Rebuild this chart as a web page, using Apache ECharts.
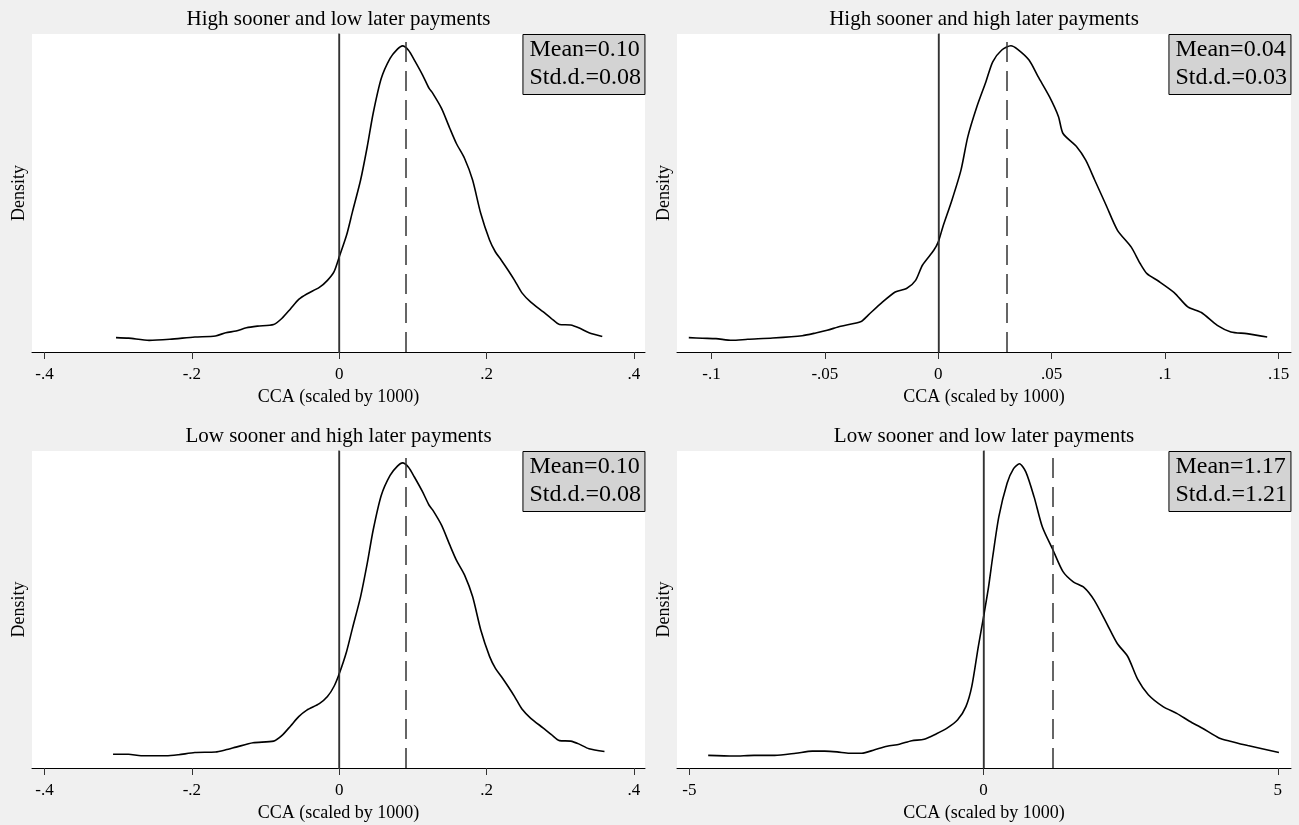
<!DOCTYPE html>
<html>
<head>
<meta charset="utf-8">
<script src="https://cdn.jsdelivr.net/npm/echarts@6/dist/echarts.min.js"></script>
<style>
  html, body { margin: 0; padding: 0; background: #f0f0f0; }
  #chart { width: 1299px; height: 825px; }
</style>
</head>
<body>
<div id="chart"></div>
<script>
// panel titles
const titles = [
    'High sooner and low later payments',
    'High sooner and high later payments',
    'Low sooner and high later payments',
    'Low sooner and low later payments'
];

// kernel density curves (x = CCA, y = density)
const p1X = [-0.303,-0.286,-0.258,-0.230,-0.196,-0.168,-0.154,-0.140,-0.126,-0.111,-0.089,-0.078,-0.066,-0.055,-0.044,-0.027,-0.016,-0.007,0.000,0.010,0.018,0.029,0.038,0.046,0.057,0.069,0.079,0.086,0.094,0.102,0.113,0.122,0.127,0.139,0.150,0.159,0.170,0.181,0.192,0.204,0.212,0.220,0.229,0.238,0.248,0.260,0.277,0.288,0.299,0.314,0.325,0.339,0.357];
const p1Y = [0.05,0.04,0.00,0.02,0.06,0.08,0.14,0.17,0.23,0.26,0.29,0.40,0.58,0.75,0.85,0.97,1.10,1.26,1.53,1.93,2.36,2.94,3.55,4.16,4.80,5.17,5.34,5.40,5.32,5.14,4.87,4.62,4.53,4.25,3.89,3.61,3.34,2.94,2.33,1.84,1.62,1.47,1.29,1.10,0.87,0.70,0.52,0.40,0.29,0.28,0.23,0.14,0.07];

const p2X = [-0.110,-0.104,-0.098,-0.091,-0.084,-0.073,-0.060,-0.054,-0.049,-0.043,-0.034,-0.031,-0.025,-0.019,-0.014,-0.010,-0.007,-0.002,0.000,0.002,0.006,0.010,0.013,0.017,0.021,0.024,0.028,0.032,0.035,0.040,0.044,0.049,0.053,0.055,0.061,0.065,0.069,0.074,0.079,0.085,0.089,0.092,0.097,0.104,0.110,0.116,0.123,0.129,0.136,0.145];
const p2Y = [0.13,0.10,0.08,0.00,0.05,0.11,0.22,0.35,0.48,0.67,0.90,1.19,1.78,2.30,2.46,2.85,3.57,4.28,4.68,5.39,6.66,8.09,9.67,11.10,12.29,13.24,13.80,14.00,13.83,13.32,12.53,11.58,10.63,9.83,9.20,8.56,7.61,6.42,5.23,4.44,3.65,3.17,2.82,2.27,1.59,1.32,0.71,0.40,0.32,0.16];

const p3X = [-0.307,-0.286,-0.269,-0.235,-0.218,-0.196,-0.168,-0.154,-0.140,-0.117,-0.089,-0.078,-0.066,-0.055,-0.044,-0.027,-0.016,-0.007,0.000,0.010,0.018,0.029,0.038,0.046,0.057,0.069,0.079,0.086,0.094,0.102,0.113,0.122,0.127,0.139,0.150,0.159,0.170,0.181,0.192,0.204,0.212,0.220,0.229,0.238,0.248,0.260,0.277,0.288,0.299,0.314,0.325,0.339,0.360];
const p3Y = [0.04,0.04,0.01,0.01,0.03,0.07,0.08,0.12,0.17,0.25,0.28,0.38,0.56,0.73,0.85,0.97,1.10,1.29,1.52,1.93,2.36,2.94,3.55,4.16,4.80,5.17,5.34,5.40,5.32,5.14,4.87,4.62,4.53,4.25,3.89,3.61,3.34,2.94,2.33,1.84,1.62,1.47,1.29,1.10,0.87,0.70,0.52,0.40,0.29,0.28,0.23,0.14,0.09];

const p4X = [-4.68,-4.25,-3.90,-3.55,-3.19,-2.91,-2.70,-2.49,-2.28,-2.07,-1.85,-1.64,-1.43,-1.22,-1.01,-0.80,-0.62,-0.44,-0.30,-0.20,-0.09,0.00,0.085,0.155,0.26,0.40,0.51,0.61,0.72,0.86,1.00,1.18,1.35,1.53,1.71,1.88,2.09,2.27,2.45,2.62,2.80,3.05,3.29,3.50,3.72,4.00,4.21,4.49,5.02];
const p4Y = [0.001,0.000,0.001,0.001,0.004,0.007,0.007,0.006,0.004,0.004,0.009,0.014,0.017,0.022,0.024,0.032,0.040,0.052,0.071,0.100,0.157,0.200,0.243,0.286,0.344,0.392,0.413,0.420,0.408,0.372,0.329,0.296,0.265,0.250,0.242,0.224,0.191,0.162,0.143,0.110,0.088,0.071,0.061,0.050,0.040,0.026,0.021,0.015,0.005];

// dashed reference line and the numbers in the boxes
const dashAt = [0.09, 0.03, 0.09, 1.17];
const meanTxt = ['0.10', '0.04', '0.10', '1.17'];
const sdTxt = ['0.08', '0.03', '0.08', '1.21'];

// x tick labels
const ticks = [
    [-0.4, -0.2, 0, 0.2, 0.4],
    [-0.1, -0.05, 0, 0.05, 0.1, 0.15],
    [-0.4, -0.2, 0, 0.2, 0.4],
    [-5, 0, 5]
];

const curves = [[p1X, p1Y], [p2X, p2Y], [p3X, p3Y], [p4X, p4Y]];

// layout (pixels) and axis extents
const grids = [
    {left: 32, top: 34, width: 613, height: 318},
    {left: 677, top: 34, width: 614, height: 318},
    {left: 32, top: 451, width: 613, height: 317},
    {left: 677, top: 451, width: 614, height: 317}
];
const xRange = [[-0.417, 0.415], [-0.1152, 0.1555], [-0.417, 0.415], [-5.21, 5.225]];
const yRange = [[-0.214, 5.618], [-0.555, 14.56], [-0.214, 5.618], [-0.0172, 0.4383]];

const FONT = 'Liberation Serif';

let dom = document.getElementById('chart');
let myChart = echarts.init(dom);

let fmt = v => String(v).replace(/^(-?)0\./, '$1.');

let option = {
    animation: false,
    backgroundColor: '#f0f0f0',
    title: [],
    grid: [],
    xAxis: [],
    yAxis: [],
    series: []
};

grids.forEach((g, i) => {
    option.grid.push(Object.assign({
        show: true,
        backgroundColor: '#ffffff',
        borderWidth: 0
    }, g));

    // panel title
    option.title.push({
        text: titles[i],
        left: g.left + g.width / 2,
        top: g.top - 25,
        textAlign: 'center',
        padding: 0,
        textStyle: {fontFamily: FONT, fontSize: 21, fontWeight: 'normal', color: '#000'}
    });

    // mean / std box
    option.title.push({
        text: 'Mean=' + meanTxt[i] + '\nStd.d.=' + sdTxt[i],
        right: 1299 - (g.left + g.width),
        top: g.top,
        backgroundColor: '#d3d3d3',
        borderColor: '#000',
        borderWidth: 1,
        padding: [2, 4, 3, 7],
        textStyle: {fontFamily: FONT, fontSize: 24, fontWeight: 'normal', color: '#000', lineHeight: 28}
    });

    option.xAxis.push({
        type: 'value',
        gridIndex: i,
        min: xRange[i][0],
        max: xRange[i][1],
        name: 'CCA (scaled by 1000)',
        nameLocation: 'middle',
        nameGap: 36,
        nameTextStyle: {fontFamily: FONT, fontSize: 18, color: '#000'},
        axisLine: {onZero: false, lineStyle: {color: '#000', width: 1}},
        axisTick: {show: true, length: 7, customValues: ticks[i], lineStyle: {color: '#333'}},
        axisLabel: {
            customValues: ticks[i],
            formatter: fmt,
            margin: 14,
            fontFamily: FONT,
            fontSize: 17,
            color: '#000'
        },
        splitLine: {show: false}
    });

    option.yAxis.push({
        type: 'value',
        gridIndex: i,
        min: yRange[i][0],
        max: yRange[i][1],
        name: 'Density',
        nameLocation: 'middle',
        nameGap: 4,
        nameRotate: 90,
        nameTextStyle: {fontFamily: FONT, fontSize: 18, color: '#000'},
        axisLine: {show: true, lineStyle: {color: '#444', width: 1.5}},
        axisTick: {show: false},
        axisLabel: {show: false},
        splitLine: {show: false}
    });

    let xs = curves[i][0], ys = curves[i][1];
    option.series.push({
        type: 'line',
        xAxisIndex: i,
        yAxisIndex: i,
        data: xs.map((x, k) => [x, ys[k]]),
        showSymbol: false,
        symbol: 'none',
        smooth: 0.25,
        lineStyle: {color: '#000', width: 1.6},
        markLine: {
            silent: true,
            symbol: ['none', 'none'],
            label: {show: false},
            data: [
                {xAxis: 0, lineStyle: {color: '#333', width: 1.3, type: 'solid'}},
                {xAxis: dashAt[i], lineStyle: {color: '#333', width: 1.5, type: [20, 9]}}
            ]
        }
    });
});

myChart.setOption(option);
</script>
</body>
</html>
